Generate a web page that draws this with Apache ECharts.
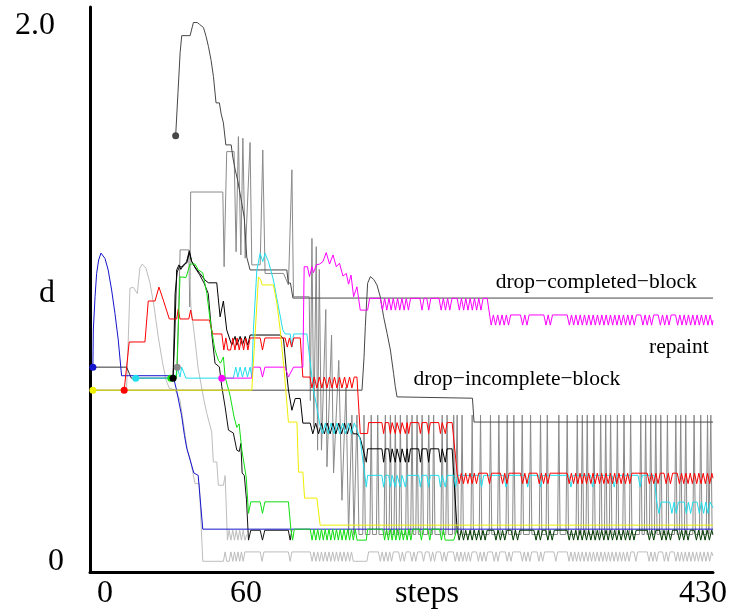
<!DOCTYPE html>
<html><head><meta charset="utf-8">
<script src="https://cdn.jsdelivr.net/npm/echarts@6/dist/echarts.min.js"></script>
<style>html,body{margin:0;padding:0;background:#fff}#chart{width:732px;height:611px}</style>
</head><body><div id="chart"></div>
<script>
// ---------- tick labels ----------
const xTickSteps = [8.4, 106.2, 231.7, 423.1];
const xTickLabels = ['0', '60', 'steps', '430'];
const yTickValues = [0, 1, 2];
const yTickLabels = ['0', 'd', '2.0'];
const annotationTexts = ['drop\u2212completed\u2212block', 'repaint', 'drop\u2212incomplete\u2212block'];
const annotationAnchors = [[349, 1.043], [406.4, 0.8], [294, 0.681]];

// ---------- start dots ----------
const blueDot = [0, 0.725];
const yellowDot = [0, 0.639];
const redDot = [21.7, 0.639];
const cyanDot = [29.7, 0.684];
const greenDot = [54, 0.684];
const blackDot = [55.6, 0.684];
const darkDot = [57.4, 1.589];
const greyDot = [58.5, 0.725];
const magentaDot = [89.4, 0.684];

// ---------- series values [step, d] ----------
const blueLine = [[0,0.725],[0.3,0.864],[1.5,0.988],[2.6,1.075],[4,1.125],[5.6,1.151],[8.4,1.131],[10.6,1.088],[13,1.013],[15.3,0.926],[17.6,0.826],[19.9,0.693],[55.6,0.693],[58,0.64],[61.5,0.545],[63.5,0.47],[65.1,0.422],[66.2,0.419],[70,0.33],[73,0.321],[76.2,0.12],[430,0.12]];

const yellowLine = [[0,0.639],[110.2,0.639],[114.8,1.062],[116.5,1.05],[117.3,1.032],[125.2,1.032],[127.6,0.963],[129.9,0.864],[132.6,0.714],[135.6,0.52],[141.5,0.52],[142.6,0.333],[145.6,0.333],[146.8,0.236],[155.3,0.236],[157.6,0.135],[430,0.135]];

const preLine = [[0,0.725],[23.4,0.725],[26.6,0.684],[55.6,0.684]];

const redLine = [[21.7,0.639],[25.2,0.819],[36.1,0.819],[38.4,0.972],[43.1,0.972],[45.8,1.024],[48.8,0.976],[53,0.905],[58.1,0.905],[59.2,0.942],[60.4,0.905],[66.5,0.905],[67.8,0.938],[69,0.901],[80.8,0.901],[83.1,0.849],[89.4,0.849],[90.8,0.789],[92.2,0.834],[93.6,0.789],[95.5,0.789],[97,0.834],[98.5,0.789],[100,0.834],[101.5,0.789],[103,0.834],[104.5,0.789],[106,0.834],[107.5,0.789],[109,0.834],[116,0.834],[117.6,0.789],[119.3,0.834],[133.3,0.834],[134.8,0.8],[136.3,0.834],[137.8,0.8],[139.3,0.834],[143.8,0.834],[145.6,0.688],[150.5,0.688],[151.9,0.647],[153.5,0.688],[155.3,0.647],[157,0.688],[158.8,0.647],[160.5,0.688],[162.3,0.647],[164,0.688],[165.8,0.647],[167.5,0.688],[169.2,0.647],[171,0.688],[172.7,0.647],[174.5,0.688],[176.2,0.647],[178,0.688],[179.6,0.647],[181.2,0.688],[183.1,0.688],[185.4,0.477],[190.5,0.477],[191.2,0.518],[200.4,0.518],[201.6,0.477],[202.8,0.518],[205.1,0.518],[206.3,0.477],[207.5,0.518],[208.5,0.518],[209.7,0.477],[210.9,0.518],[212,0.518],[213.2,0.477],[214.4,0.518],[215.5,0.518],[216.7,0.477],[217.9,0.518],[219,0.477],[220.2,0.518],[225.9,0.518],[227.1,0.477],[228.3,0.518],[231.6,0.518],[232.8,0.477],[234,0.518],[239.8,0.518],[241,0.477],[242.2,0.518],[243.2,0.518],[244.4,0.477],[245.6,0.518],[249.1,0.518],[252.6,0.329],[254,0.29],[255.5,0.329],[257,0.29],[258.5,0.329],[260,0.29],[261.5,0.329],[263,0.29],[264.5,0.329],[266,0.29],[267.5,0.329],[273.4,0.329],[275,0.29],[276.5,0.329],[282.6,0.329],[284.1,0.29],[285.6,0.329],[287.1,0.29],[288.6,0.329],[296.5,0.329],[298,0.29],[299.5,0.329],[301,0.29],[302.5,0.329],[308,0.329],[309.5,0.29],[311,0.329],[312.5,0.29],[314,0.329],[315.5,0.29],[317,0.329],[328.8,0.329],[330.3,0.29],[331.8,0.329],[333.3,0.29],[334.8,0.329],[336.3,0.29],[337.8,0.329],[339.3,0.29],[340.8,0.329],[342.3,0.29],[343.8,0.329],[345.3,0.29],[346.8,0.329],[348.3,0.29],[349.8,0.329],[351.3,0.29],[352.8,0.329],[354.3,0.29],[355.8,0.329],[357.3,0.29],[358.8,0.329],[360.3,0.29],[361.8,0.329],[363.3,0.29],[364.8,0.329],[366.3,0.29],[367.8,0.329],[369.3,0.29],[370.8,0.329],[372.3,0.29],[373.8,0.329],[384.4,0.329],[385.9,0.29],[387.4,0.329],[388.9,0.29],[390.4,0.329],[391.9,0.29],[393.4,0.329],[396,0.329],[397.5,0.29],[399,0.329],[400.5,0.29],[402,0.329],[405.2,0.329],[406.7,0.29],[408.2,0.329],[409.7,0.29],[411.2,0.329],[412.7,0.29],[414.2,0.329],[415.7,0.29],[417.2,0.329],[418.7,0.29],[420.2,0.329],[421.7,0.29],[423.2,0.329],[424.7,0.29],[426.2,0.329],[427.7,0.29],[429.2,0.329],[430,0.31]];

const cyanLine = [[29.7,0.684],[57.3,0.684],[58.5,0.725],[60.4,0.688],[61.6,0.725],[64.5,0.684],[97.4,0.684],[99.1,0.725],[100.5,0.688],[102.1,0.725],[103.7,0.688],[105.6,0.725],[107.2,0.688],[109,0.725],[110.2,0.688],[111.3,0.864],[113.7,1.088],[116,1.15],[117.8,1.119],[119.4,1.15],[121.7,1.12],[125.2,1.05],[128.7,0.95],[131.7,0.864],[133.3,0.849],[136.8,0.849],[138,0.8],[139.2,0.849],[148.4,0.849],[151.9,0.688],[153,0.639],[155.3,0.576],[157.2,0.516],[159.2,0.476],[161.2,0.516],[163.2,0.476],[165.2,0.516],[167.2,0.476],[169.2,0.516],[171.2,0.476],[173.2,0.516],[175.2,0.476],[177.2,0.516],[179.2,0.476],[181.2,0.516],[183.3,0.49],[185.4,0.452],[189.6,0.277],[190.5,0.321],[200.4,0.321],[201.6,0.277],[202.8,0.321],[205.1,0.321],[206.3,0.277],[207.5,0.321],[208.5,0.321],[209.7,0.277],[210.9,0.321],[212,0.321],[213.2,0.277],[214.4,0.321],[215.5,0.321],[216.7,0.277],[217.9,0.321],[225.9,0.321],[227.1,0.277],[228.3,0.321],[231.6,0.321],[232.8,0.277],[234,0.321],[239.8,0.321],[241,0.277],[242.2,0.321],[243.2,0.321],[244.4,0.277],[245.6,0.321],[250.2,0.321],[251.5,0.277],[252.8,0.321],[268,0.321],[269.5,0.277],[271,0.321],[285,0.321],[286.5,0.277],[288,0.321],[300,0.321],[301.5,0.277],[303,0.321],[309,0.321],[310.5,0.277],[312,0.321],[330,0.321],[331.5,0.277],[333,0.321],[345,0.321],[346.5,0.277],[348,0.321],[360,0.321],[361.5,0.277],[363,0.321],[378,0.321],[379.5,0.277],[381,0.321],[389.1,0.321],[391,0.221],[392.5,0.179],[394,0.221],[400,0.221],[401.5,0.179],[403,0.221],[404.5,0.179],[406,0.221],[410,0.221],[411.5,0.179],[413,0.221],[414.5,0.179],[416,0.221],[419,0.221],[420.5,0.179],[422,0.221],[423.5,0.179],[425,0.221],[426.5,0.179],[428,0.221],[430,0.2]];

const greenLine = [[54,0.684],[58,0.684],[60.4,1.062],[64.6,1.06],[67.4,1.11],[70.8,1.11],[73.1,1.088],[76.2,1.077],[79,1.0],[81.9,0.876],[84.7,0.789],[87,0.751],[88.5,0.74],[90.5,0.763],[91.7,0.688],[95.1,0.62],[97.9,0.539],[99.8,0.5],[101.4,0.513],[103.3,0.415],[104.5,0.415],[106.3,0.315],[107.9,0.179],[109.5,0.222],[116,0.222],[117.6,0.179],[119.3,0.222],[135.6,0.222],[137.3,0.12],[138.5,0.079],[139.7,0.12],[150.7,0.12],[152,0.079],[153.3,0.12],[154.6,0.079],[155.9,0.12],[157.2,0.079],[158.5,0.12],[159.8,0.079],[161.1,0.12],[162.4,0.079],[163.7,0.12],[165,0.079],[166.3,0.12],[167.6,0.079],[168.9,0.12],[170.2,0.079],[171.5,0.12],[172.8,0.079],[174.1,0.12],[175.4,0.079],[176.7,0.12],[178,0.079],[179.3,0.12],[180.6,0.079],[181.9,0.12],[183.2,0.079],[189.6,0.079],[190.5,0.12],[201,0.12],[202.3,0.079],[203.6,0.12],[204.9,0.079],[206.2,0.12],[207.5,0.079],[208.8,0.12],[210.1,0.079],[211.4,0.12],[212.7,0.079],[214,0.12],[215.3,0.079],[216.6,0.12],[217.9,0.079],[219.2,0.12],[220.5,0.079],[221.8,0.12],[226.5,0.12],[227.8,0.079],[229.1,0.12],[232.3,0.12],[233.6,0.079],[234.9,0.12],[240.4,0.12],[241.7,0.079],[243,0.12],[244.3,0.079],[245.6,0.079],[250.2,0.079],[252.6,0.12]];

const darkGreenLine = [[252.6,0.116],[254,0.079],[255.5,0.116],[257,0.079],[258.5,0.116],[260,0.079],[261.5,0.116],[263,0.079],[264.5,0.116],[266,0.079],[267.5,0.116],[269,0.079],[270.5,0.116],[272,0.079],[273.4,0.116],[278,0.116],[279.5,0.079],[281,0.116],[282.6,0.079],[284.1,0.116],[285.6,0.079],[287.1,0.116],[290,0.116],[291.5,0.079],[293,0.116],[294.5,0.079],[296,0.116],[305.8,0.116],[307.3,0.079],[308.8,0.116],[310.3,0.079],[311.8,0.116],[314,0.116],[315.5,0.079],[317,0.116],[318.5,0.079],[320,0.116],[328.8,0.116],[330.3,0.079],[331.8,0.116],[333.3,0.079],[334.8,0.116],[336.3,0.079],[337.8,0.116],[339.3,0.079],[340.8,0.116],[342.3,0.079],[343.8,0.116],[345.3,0.079],[346.8,0.116],[348.3,0.079],[349.8,0.116],[351.3,0.079],[352.8,0.116],[354.3,0.079],[355.8,0.116],[357.3,0.079],[358.8,0.116],[360.3,0.079],[361.8,0.116],[363.3,0.079],[364.8,0.116],[366.3,0.079],[367.8,0.116],[369.3,0.079],[370.8,0.116],[372.3,0.079],[373.8,0.116],[375.2,0.079],[376.7,0.116],[384.4,0.116],[385.9,0.079],[387.4,0.116],[388.9,0.079],[390.4,0.116],[393,0.116],[394.5,0.079],[396,0.116],[397.5,0.079],[399,0.116],[400.5,0.079],[402,0.116],[405.2,0.116],[406.7,0.079],[408.2,0.116],[409.7,0.079],[411.2,0.116],[412.7,0.079],[414.2,0.116],[417,0.116],[418.5,0.079],[420,0.116],[421.5,0.079],[423,0.116],[424.5,0.079],[426,0.116],[427.5,0.079],[429,0.116],[430,0.1]];

const blackLine = [[55.6,0.684],[56.8,0.85],[58.1,1.088],[59.7,1.107],[61,1.09],[62.7,1.107],[65.1,1.114],[66.9,1.153],[68.5,1.12],[70.8,1.099],[74.3,1.074],[77.8,1.05],[80.1,1.04],[85.9,1.04],[88.2,0.913],[90.5,0.972],[92.8,0.864],[96.3,0.807],[98.6,0.84],[99.8,0.807],[102.1,0.84],[103.7,0.807],[105.6,0.84],[107.4,0.807],[109,0.845],[129.9,0.845],[132.2,0.83],[134,0.72],[135.6,0.64],[138,0.564],[140.3,0.608],[143.8,0.608],[145.6,0.516],[150.7,0.516],[152.5,0.476],[154.5,0.516],[156.5,0.476],[158.5,0.516],[160.5,0.476],[162.5,0.516],[164.5,0.476],[166.5,0.516],[168.5,0.476],[170.5,0.516],[172.5,0.476],[174.5,0.516],[176.5,0.476],[178.5,0.516],[180.5,0.476],[183.3,0.476],[185.4,0.46],[189.6,0.37],[190.5,0.42],[200.4,0.42],[201.6,0.37],[202.8,0.42],[205.1,0.42],[206.3,0.37],[207.5,0.42],[208.5,0.42],[209.7,0.37],[210.9,0.42],[212,0.42],[213.2,0.37],[214.4,0.42],[215.5,0.42],[216.7,0.37],[217.9,0.42],[219,0.37],[220.2,0.42],[225.9,0.42],[227.1,0.37],[228.3,0.42],[231.6,0.42],[232.8,0.37],[234,0.42],[239.8,0.42],[241,0.37],[242.2,0.42],[243.2,0.42],[244.4,0.37],[245.6,0.42],[249.1,0.42],[252.6,0.116]];

const black2Line = [[55.6,0.684],[57,1.0],[58.5,1.08],[60,1.1],[62.5,1.1],[65,1.12],[66.9,1.16],[68.5,1.12],[71,1.095],[74,1.07],[77,1.04],[80,1.0],[82.4,0.851],[84.7,0.739],[87.7,0.726],[89.4,0.652],[91.7,0.576],[94,0.49],[97.4,0.479],[99.8,0.415],[101.5,0.41],[102.6,0.44],[103.5,0.33],[105,0.32],[106.5,0.23],[107.9,0.079],[109.5,0.116],[116,0.116],[117.6,0.079],[119.2,0.116],[135.5,0.116],[136.8,0.079],[138,0.116]];

const magentaLine = [[89.4,0.684],[110.2,0.684],[111,0.725],[116,0.725],[117.6,0.688],[119.3,0.725],[133.3,0.725],[135.6,0.688],[139.1,0.725],[145.6,0.725],[146.5,1.1],[148.8,1.1],[150.2,1.063],[151.9,1.1],[153,1.078],[154.9,1.107],[157.2,1.11],[159.5,1.119],[161.8,1.153],[164.1,1.11],[166.5,1.144],[168.8,1.1],[171,1.113],[173.4,1.065],[175.7,1.075],[177.3,1.035],[179,1.069],[180.8,0.988],[183.1,1.025],[185.4,0.938],[190.5,0.938],[191.9,0.982],[199.3,0.982],[200.8,0.938],[202.3,0.982],[203.8,0.938],[205.3,0.982],[206.8,0.938],[208.3,0.982],[209.8,0.938],[211.3,0.982],[212.8,0.938],[214.3,0.982],[215.8,0.938],[217.3,0.982],[218.8,0.938],[220.3,0.982],[226.8,0.982],[228.2,0.938],[229.6,0.982],[231.5,0.982],[232.9,0.938],[234.3,0.982],[240,0.982],[241.5,0.938],[243,0.982],[244.5,0.938],[246,0.982],[247.5,0.938],[249,0.982],[252.6,0.982],[254.1,0.938],[255.6,0.982],[257.1,0.938],[258.6,0.982],[260.1,0.938],[261.6,0.982],[263.1,0.938],[264.6,0.982],[266.1,0.938],[267.6,0.982],[269.1,0.938],[270.6,0.982],[273.4,0.982],[276.2,0.882],[277.7,0.92],[279.2,0.882],[280.7,0.92],[282.2,0.882],[283.7,0.92],[285.2,0.882],[286.7,0.92],[288.2,0.882],[289.7,0.92],[296.5,0.92],[298,0.882],[299.5,0.92],[301,0.882],[302.5,0.92],[312.7,0.92],[314.2,0.882],[315.7,0.92],[317.2,0.882],[318.7,0.92],[328.9,0.92],[330.4,0.882],[331.9,0.92],[333.4,0.882],[334.9,0.92],[336.4,0.882],[337.9,0.92],[339.4,0.882],[340.9,0.92],[342.4,0.882],[343.9,0.92],[345.4,0.882],[346.9,0.92],[348.4,0.882],[349.9,0.92],[351.4,0.882],[352.9,0.92],[354.4,0.882],[355.9,0.92],[357.4,0.882],[358.9,0.92],[360.4,0.882],[361.9,0.92],[363.4,0.882],[364.9,0.92],[366.4,0.882],[367.9,0.92],[369.4,0.882],[370.9,0.92],[372.4,0.882],[373.9,0.92],[375.4,0.882],[376.9,0.92],[379.9,0.92],[381.4,0.882],[382.9,0.92],[384.4,0.882],[385.9,0.92],[387.4,0.882],[388.9,0.92],[392,0.92],[393.5,0.882],[395,0.92],[396.5,0.882],[398,0.92],[399.5,0.882],[401,0.92],[404,0.92],[405.5,0.882],[407,0.92],[408.5,0.882],[410,0.92],[411.5,0.882],[413,0.92],[414.5,0.882],[416,0.92],[417.5,0.882],[419,0.92],[420.5,0.882],[422,0.92],[423.5,0.882],[425,0.92],[426.5,0.882],[428,0.92],[429.5,0.882],[430,0.9]];

const dropCompletedLine = [[57.4,1.589],[59,1.75],[60.5,1.9],[61.6,1.963],[67.4,1.963],[69.7,2.012],[72.4,2.012],[74,2.005],[76.7,1.993],[78.5,1.96],[80.1,1.923],[82,1.87],[83.6,1.81],[85.4,1.712],[87.7,1.712],[89,1.67],[90.5,1.637],[92.2,1.555],[95.9,1.555],[97,1.51],[98.7,1.462],[100.5,1.42],[102,1.375],[103.5,1.33],[105,1.282],[106.7,1.136],[109,1.088],[134.5,1.088],[135.5,1.039],[137,1.039],[138.7,0.983],[430,0.983]];

const dropIncompleteLine = [[0,0.639],[186.6,0.639],[188,0.76],[188.9,0.876],[189.6,0.876],[190.5,1.038],[192.4,1.063],[194.7,1.053],[197,1.032],[199.3,0.987],[201.6,0.913],[204,0.851],[206.3,0.789],[208.5,0.702],[209.7,0.652],[210.9,0.614],[263.2,0.609],[264.3,0.52],[430,0.52]];

const lightGreyA = [[23.4,0.646],[25.7,1.02],[28,1.023],[30.8,1.0],[32.6,1.095],[34.2,1.11],[36.8,1.095],[39.6,1.039],[42.4,0.952],[45.3,0.839],[48.4,0.739],[50.7,0.677],[53,0.646],[57,0.64],[60.4,0.602],[65.5,0.415],[67.4,0.384],[70.8,0.29],[73.8,0.29],[76.2,0],[90.5,0],[91.7,0.035],[92.8,0],[94.5,0],[95.7,0.035],[97,0],[98.2,0.035],[99.4,0],[100.6,0.035],[101.8,0],[103,0.035],[104.2,0],[105.4,0.035],[116,0.035],[117.3,0],[118.6,0.035],[135.6,0.035],[136.8,0],[138,0.035],[150.7,0.035],[152,0],[153.3,0.035],[154.6,0],[155.9,0.035],[157.2,0],[158.5,0.035],[159.8,0],[161.1,0.035],[162.4,0],[163.7,0.035],[165,0],[166.3,0.035],[167.6,0],[168.9,0.035],[170.2,0],[171.5,0.035],[172.8,0],[174.1,0.035],[175.4,0],[176.7,0.035],[178,0],[179.3,0.035],[180.6,0],[190,0],[191.2,0.035],[198,0.035],[199.3,0],[200.6,0.035],[201.9,0],[203.2,0.035],[204.5,0],[205.8,0.035],[207.1,0],[208.4,0.035],[212,0.035],[213.3,0],[214.6,0.035],[215.9,0],[217.2,0.035],[220,0.035],[221.3,0],[222.6,0.035],[223.9,0],[225.2,0.035],[228,0.035],[229.3,0],[230.6,0.035],[233,0.035],[234.3,0],[235.6,0.035],[236.9,0],[238.2,0.035],[241,0.035],[242.3,0],[243.6,0.035],[244.9,0],[246.2,0.035],[250,0.035],[251.3,0],[252.6,0.035],[253.9,0],[255.2,0.035],[256.5,0],[257.8,0.035],[259.1,0],[260.4,0.035],[261.7,0],[263,0.035],[266,0.035],[267.3,0],[268.6,0.035],[269.9,0],[271.2,0.035],[272.5,0],[273.8,0.035],[277,0.035],[278.3,0],[279.6,0.035],[280.9,0],[282.2,0.035],[286,0.035],[287.3,0],[288.6,0.035],[289.9,0],[291.2,0.035],[296.5,0.035],[297.8,0],[299.1,0.035],[300.4,0],[301.7,0.035],[303,0],[304.3,0.035],[308,0.035],[309.3,0],[310.6,0.035],[311.9,0],[313.2,0.035],[319.7,0.035],[321,0],[322.3,0.035],[328.9,0.035],[330.2,0],[331.5,0.035],[332.8,0],[334.1,0.035],[335.4,0],[336.7,0.035],[338,0],[339.3,0.035],[340.6,0],[341.9,0.035],[343.2,0],[344.5,0.035],[345.8,0],[347.1,0.035],[348.4,0],[349.7,0.035],[351,0],[352.3,0.035],[353.6,0],[354.9,0.035],[356.2,0],[357.5,0.035],[358.8,0],[360.1,0.035],[361.4,0],[362.7,0.035],[364,0],[365.3,0.035],[366.6,0],[367.9,0.035],[369.2,0],[370.5,0.035],[371.8,0],[373.1,0.035],[375.2,0.035],[376.5,0],[377.8,0.035],[384.4,0.035],[385.7,0],[387,0.035],[388.3,0],[389.6,0.035],[390.9,0],[392.2,0.035],[395,0.035],[396.3,0],[397.6,0.035],[398.9,0],[400.2,0.035],[403,0.035],[404.3,0],[405.6,0.035],[406.9,0],[408.2,0.035],[409.5,0],[410.8,0.035],[412.1,0],[413.4,0.035],[414.7,0],[416,0.035],[417.3,0],[418.6,0.035],[419.9,0],[421.2,0.035],[422.5,0],[423.8,0.035],[425.1,0],[426.4,0.035],[427.7,0],[429,0.035],[430,0.02]];

const lightGreyB = [[66.5,1.163],[68,0.95],[70.8,0.826],[73,0.72],[77,0.602],[79,0.552],[82.4,0.483],[83.5,0.371],[85.9,0.371],[87,0.284],[90.5,0.284],[91.7,0.32],[93.3,0.079],[94.5,0.116],[95.7,0.079],[97,0.116],[98.2,0.079],[99.4,0.116],[100.6,0.079],[101.8,0.116],[103,0.079],[104.2,0.116],[105.4,0.079],[106.7,0.1]];

const greyHead = [[58.5,0.725],[60.5,1.163],[66.5,1.163],[67.2,0.95],[67.8,1.379],[90.1,1.379],[91,1.1],[92.8,1.53],[97.9,1.53],[99.3,1.156],[100.9,1.586],[102.6,1.144],[104,1.58],[105.6,1.132],[109,1.564],[110.2,1.107],[116,1.107],[117.8,1.536],[119.4,1.075],[132.2,1.075],[135.6,1.032],[138,1.462],[139.1,0.988],[150,0.988],[150.8,0.6],[151.9,1.206],[153.2,0.5],[154.9,1.175],[155.8,0.415],[157,1.09],[158.5,0.415],[161.5,0.94],[162.3,0.353],[165.5,0.845],[166.9,0.33],[170.5,0.75],[172.7,0.228],[175.5,0.65],[177.3,0.1],[179.6,0.546],[181,0.1],[183.1,0.546],[184.5,0.1]];
const greySpikeSteps = [188,193,197.5,202.8,206.3,209.7,213.2,217.8,221.3,224.8,228.3,232.9,236.3,242.2,245.6,250.2,252.6,256,263,268.8,275.7,281.5,287.3,291.9,297.7,303.5,310.4,315.1,323.1,328.9,335.9,339.4,342.8,347.4,352.1,355.6,359,363.7,368.3,372.9,379.9,383.3,386.8,390.3,393.8,398.4,404.2,407.6,411.1,416.9,421.5,426.2,428.5];
const greySpikeTop = 0.546;
const greySpikeBase = 0.1;

// ---------- build series ----------
const greySpikeLine = greyHead.slice();
greySpikeSteps.forEach(function (s) {
  greySpikeLine.push([s - 0.9, greySpikeBase], [s, greySpikeTop], [s + 0.9, greySpikeBase]);
});
greySpikeLine.push([430, greySpikeBase]);

const C = {
  blue: '#1414cc', yellow: '#eeee00', red: '#ff0000', cyan: '#22dded', green: '#11dd11',
  darkGreen: '#003a00', black: '#000000', dark: '#474747', grey: '#8a8a8a', light: '#bdbdbd', magenta: '#ff00ff'
};

const lineSpecs = [
  [greySpikeLine, C.grey],
  [lightGreyA, C.light],
  [lightGreyB, C.light],
  [dropCompletedLine, C.dark],
  [dropIncompleteLine, C.dark],
  [preLine, '#333333'],
  [black2Line, '#111111'],
  [blackLine, C.black],
  [blueLine, C.blue],
  [cyanLine, C.cyan],
  [redLine, C.red],
  [greenLine, C.green],
  [darkGreenLine, C.darkGreen],
  [magentaLine, C.magenta],
  [yellowLine, C.yellow]
];
const dotSpecs = [
  [blueDot, C.blue], [yellowDot, C.yellow], [redDot, C.red], [cyanDot, C.cyan],
  [greenDot, C.green], [blackDot, C.black], [darkDot, C.dark], [greyDot, C.grey], [magentaDot, C.magenta]
];

const series = [];
lineSpecs.forEach(function (sp, i) {
  series.push({
    type: 'line', data: sp[0], symbol: 'none', showSymbol: false, silent: true, animation: false,
    lineStyle: { color: sp[1], width: 1 }, itemStyle: { color: sp[1] }, z: 2 + i * 0.01,
    emphasis: { disabled: true }
  });
});
dotSpecs.forEach(function (d) {
  series.push({
    type: 'scatter', data: [d[0]], symbol: 'circle', symbolSize: 7, silent: true, animation: false,
    itemStyle: { color: d[1], opacity: 1 }, z: 5
  });
});

const serif = '"Liberation Serif", "DejaVu Serif", serif';
const chart = echarts.init(document.getElementById('chart'), null, { renderer: 'canvas' });
chart.setOption({
  backgroundColor: '#ffffff',
  animation: false,
  grid: { left: 90, right: 19, top: 7, bottom: 39, containLabel: false, outerBoundsMode: 'none' },
  xAxis: {
    type: 'value', min: -2, max: 430,
    axisLine: { show: true, onZero: false, lineStyle: { color: '#000', width: 3 } },
    axisTick: { show: false }, splitLine: { show: false },
    axisLabel: {
      customValues: xTickSteps, margin: 6, fontSize: 32, lineHeight: 32, fontFamily: serif, color: '#000',
      formatter: function (v) {
        let b = 0;
        for (let i = 1; i < xTickSteps.length; i++) if (Math.abs(xTickSteps[i] - v) < Math.abs(xTickSteps[b] - v)) b = i;
        return xTickLabels[b];
      }
    }
  },
  yAxis: {
    type: 'value', min: -0.04, max: 2.07,
    axisLine: { show: true, onZero: false, lineStyle: { color: '#000', width: 3 } },
    axisTick: { show: false }, splitLine: { show: false },
    axisLabel: {
      customValues: yTickValues, margin: 26, fontSize: 32, fontFamily: serif, color: '#000', align: 'right',
      formatter: function (v) {
        let b = 0;
        for (let i = 1; i < yTickValues.length; i++) if (Math.abs(yTickValues[i] - v) < Math.abs(yTickValues[b] - v)) b = i;
        return (b === 0 ? '{z|' : '{n|') + yTickLabels[b] + '}';
      },
      rich: {
        z: { fontSize: 32, fontFamily: serif, color: '#000' },
        n: { fontSize: 32, fontFamily: serif, color: '#000', padding: [0, 9, 0, 0] }
      }
    }
  },
  series: series
});

// annotation labels placed at data coordinates
const pts = annotationAnchors.map(function (a) { return chart.convertToPixel({ gridIndex: 0 }, a); });
chart.setOption({
  graphic: annotationTexts.map(function (t, i) {
    return {
      type: 'text', x: pts[i][0], y: pts[i][1], z: 100, silent: true,
      style: { text: t, font: '21.5px ' + serif, fill: '#000', align: 'center', verticalAlign: 'middle' }
    };
  })
});
</script></body></html>
